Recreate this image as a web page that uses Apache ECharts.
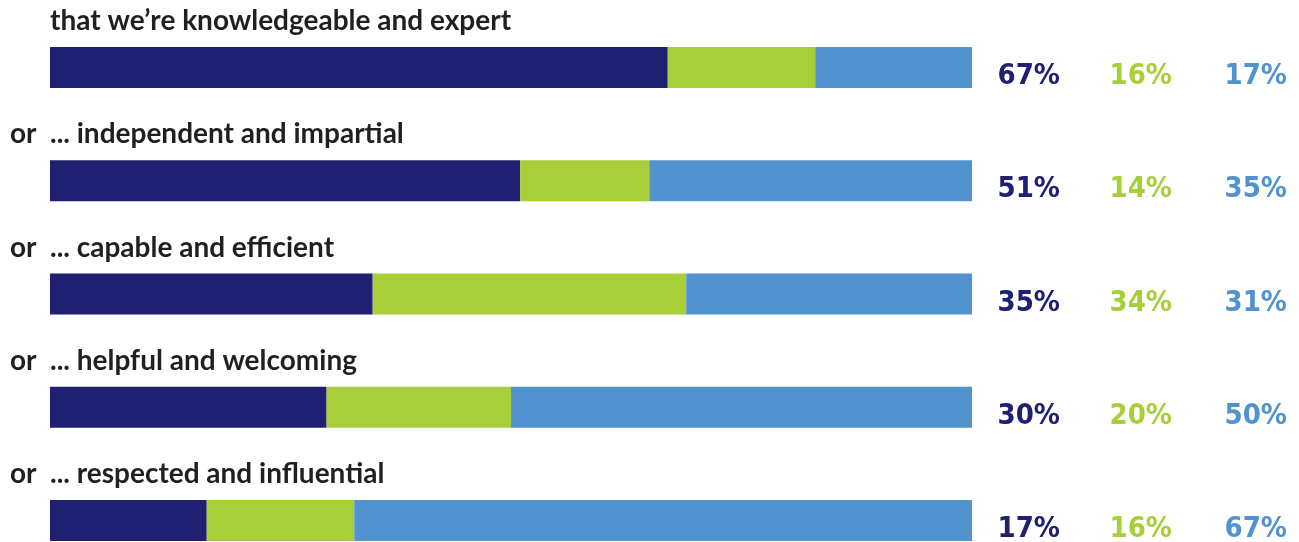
<!DOCTYPE html>
<html>
<head>
<meta charset="utf-8">
<script src="https://cdn.jsdelivr.net/npm/echarts@6/dist/echarts.min.js"></script>
<style>
  html, body { margin: 0; padding: 0; background: #fff; }
  #chart { width: 1299px; height: 542px; }
</style>
</head>
<body>
<div id="chart"></div>
<script>
// rows, top to bottom
var prefixes = ['', 'or', 'or', 'or', 'or'];
var categories = [
  'that we\u2019re knowledgeable and expert',
  '... independent and impartial',
  '... capable and efficient',
  '... helpful and welcoming',
  '... respected and influential'
];
// the three shares of each row (%)
var firstShare = [67, 51, 35, 30, 17];
var secondShare = [16, 14, 34, 20, 16];
var thirdShare = [17, 35, 31, 50, 67];

var colors = ['#1f2071', '#a8ce3a', '#5193cf'];
var txt = '#231f20';

var chart = echarts.init(document.getElementById('chart'));

var pctFont = { fontFamily: 'DejaVu Sans Condensed', fontWeight: 'bold', fontSize: 29 };

var option = {
  animation: false,
  grid: { left: 50, top: 11, width: 922, height: 566, outerBoundsMode: 'none', containLabel: false },
  xAxis: { type: 'value', min: 0, max: 100, show: false },
  yAxis: [{
    type: 'category', data: categories, inverse: true, show: false
  }, {
    type: 'category', data: categories, inverse: true, position: 'right',
    axisLine: { show: false }, axisTick: { show: false },
    axisLabel: {
      margin: 0,
      padding: [18, 0, 0, 0],
      align: 'left',
      formatter: function (v, i) {
        return '{a|' + firstShare[i] + '%}{b|' + secondShare[i] + '%}{c|' + thirdShare[i] + '%}';
      },
      rich: {
        a: Object.assign({ width: 88, align: 'right', color: colors[0] }, pctFont),
        b: Object.assign({ width: 112, align: 'right', color: colors[1] }, pctFont),
        c: Object.assign({ width: 115, align: 'right', color: colors[2] }, pctFont)
      }
    }
  }],
  series: [{
    type: 'bar', stack: 'all', data: firstShare, barWidth: 41,
    itemStyle: { color: colors[0] },
    label: {
      show: true,
      position: [-40, -26],
      align: 'left', verticalAlign: 'middle',
      formatter: function (p) {
        return '{o|' + (prefixes[p.dataIndex] || ' ') + '}{t|' + categories[p.dataIndex] + '}';
      },
      rich: {
        o: { width: 40, color: txt, fontFamily: 'Lato', fontWeight: 'bold', fontSize: 28 },
        t: { color: txt, fontFamily: 'Lato', fontWeight: 'bold', fontSize: 28 }
      }
    }
  }, {
    type: 'bar', stack: 'all', data: secondShare, barWidth: 41,
    itemStyle: { color: colors[1] }
  }, {
    type: 'bar', stack: 'all', data: thirdShare, barWidth: 41,
    itemStyle: { color: colors[2] }
  }]
};

chart.setOption(option);
</script>
</body>
</html>
